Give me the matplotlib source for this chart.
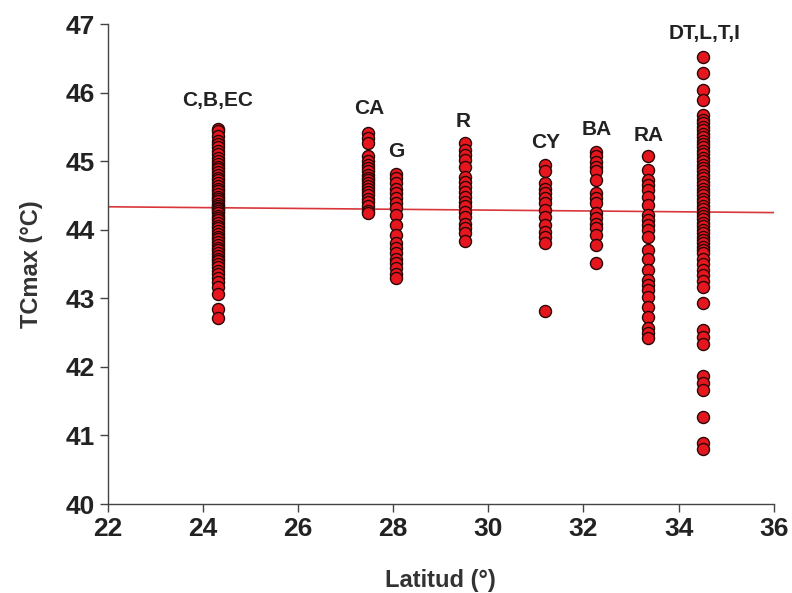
import matplotlib
matplotlib.use("Agg")
import matplotlib.pyplot as plt
import numpy as np

plt.rcParams['font.family'] = ['Liberation Sans', 'DejaVu Sans']
plt.rcParams['font.weight'] = 'bold'

# latitude of each population group and its TCmax values (°C)
groups = ['C,B,EC', 'CA', 'G', 'R', 'CY', 'BA', 'RA', 'DT,L,T,I']
latitudes = [24.31, 27.47, 28.05, 29.50, 31.20, 32.27, 33.36, 34.51]

tc_cbec = [45.47, 45.44, 45.36, 45.30, 45.25, 45.20, 45.15, 45.10, 45.05, 45.00,
           44.96, 44.92, 44.88, 44.84, 44.80, 44.76, 44.72, 44.68, 44.64, 44.60,
           44.56, 44.52, 44.48, 44.45, 44.42, 44.38, 44.35, 44.32, 44.30, 44.27,
           44.24, 44.20, 44.17, 44.14, 44.10, 44.06, 44.02, 43.98, 43.94, 43.90,
           43.86, 43.82, 43.78, 43.74, 43.70, 43.66, 43.62, 43.58, 43.54, 43.50,
           43.45, 43.40, 43.35, 43.30, 43.24, 43.17, 43.06, 42.84, 42.72]
tc_ca = [45.41, 45.34, 45.26, 45.07, 45.00, 44.95, 44.90, 44.85, 44.80, 44.76,
         44.72, 44.68, 44.64, 44.60, 44.55, 44.50, 44.45, 44.40, 44.34, 44.28, 44.24]
tc_g = [44.82, 44.75, 44.68, 44.60, 44.53, 44.46, 44.39, 44.31, 44.21, 44.07,
        43.92, 43.80, 43.73, 43.66, 43.58, 43.51, 43.44, 43.36, 43.29]
tc_r = [45.26, 45.16, 45.09, 45.02, 44.92, 44.77, 44.70, 44.63, 44.55, 44.48,
        44.41, 44.34, 44.26, 44.19, 44.09, 44.02, 43.95, 43.83]
tc_cy = [44.94, 44.85, 44.68, 44.60, 44.53, 44.46, 44.39, 44.29, 44.19, 44.07,
         43.97, 43.90, 43.80, 42.81]
tc_ba = [45.14, 45.07, 44.99, 44.92, 44.85, 44.73, 44.53, 44.46, 44.39, 44.24,
         44.17, 44.09, 44.02, 43.92, 43.78, 43.51]
tc_ra = [45.07, 44.87, 44.73, 44.65, 44.58, 44.48, 44.36, 44.21, 44.14, 44.07,
         43.99, 43.90, 43.70, 43.58, 43.41, 43.27, 43.19, 43.12, 43.02, 42.88,
         42.73, 42.56, 42.49, 42.42]
tc_dt = [46.52, 46.28, 46.04, 45.89, 45.67, 45.60, 45.55, 45.50, 45.45, 45.40,
         45.35, 45.30, 45.25, 45.20, 45.15, 45.10, 45.05, 45.00, 44.95, 44.90,
         44.85, 44.80, 44.75, 44.70, 44.65, 44.60, 44.55, 44.50, 44.45, 44.40,
         44.35, 44.30, 44.25, 44.20, 44.15, 44.10, 44.05, 44.00, 43.95, 43.90,
         43.85, 43.80, 43.75, 43.70, 43.66, 43.58, 43.50, 43.42, 43.34, 43.25,
         43.17, 42.93, 42.54, 42.44, 42.34, 41.86, 41.76, 41.66, 41.27, 40.89, 40.81]
tc_values = [tc_cbec, tc_ca, tc_g, tc_r, tc_cy, tc_ba, tc_ra, tc_dt]

# group label positions (lat, TCmax)
label_x = [24.31, 27.49, 28.07, 29.48, 31.21, 32.28, 33.37, 34.55]
label_y = [45.89, 45.77, 45.14, 45.58, 45.27, 45.46, 45.38, 46.86]

# regression line
reg_intercept = 44.335
reg_slope = (44.25 - 44.335) / 14.0

fig = plt.figure(figsize=(7.92, 5.93), dpi=100)
ax = fig.add_axes([0.136, 0.150, 0.841, 0.8095])

line_x = np.array([22, 36])
ax.plot(line_x, reg_intercept + reg_slope * (line_x - 22), color='#d9363a', lw=1.2, zorder=1)

for lat, vals in zip(latitudes, tc_values):
    ax.scatter([lat] * len(vals), vals, s=75, color='#e5161d', edgecolor='#2b0606',
               linewidth=1.0, zorder=2)

for name, lx, ly in zip(groups, label_x, label_y):
    ax.text(lx, ly, name, ha='center', va='center', fontsize=15, fontweight='bold',
            color='#222222')

ax.set_xlim(22, 36)
ax.set_ylim(40, 47)
ax.set_xticks(range(22, 37, 2))
ax.set_yticks(range(40, 48))
for s in ['top', 'right']:
    ax.spines[s].set_visible(False)
for s in ['left', 'bottom']:
    ax.spines[s].set_color('#444444')
    ax.spines[s].set_linewidth(1.0)
ax.tick_params(direction='out', length=6, width=1, color='#444444',
               labelsize=19, labelcolor='#222222')
ax.set_xlabel('Latitud (°)', fontsize=17, fontweight='bold', color='#333333', labelpad=20)
ax.set_ylabel('TCmax (°C)', fontsize=17, fontweight='bold', color='#333333', labelpad=16)

fig.savefig('out.png', dpi=100)
